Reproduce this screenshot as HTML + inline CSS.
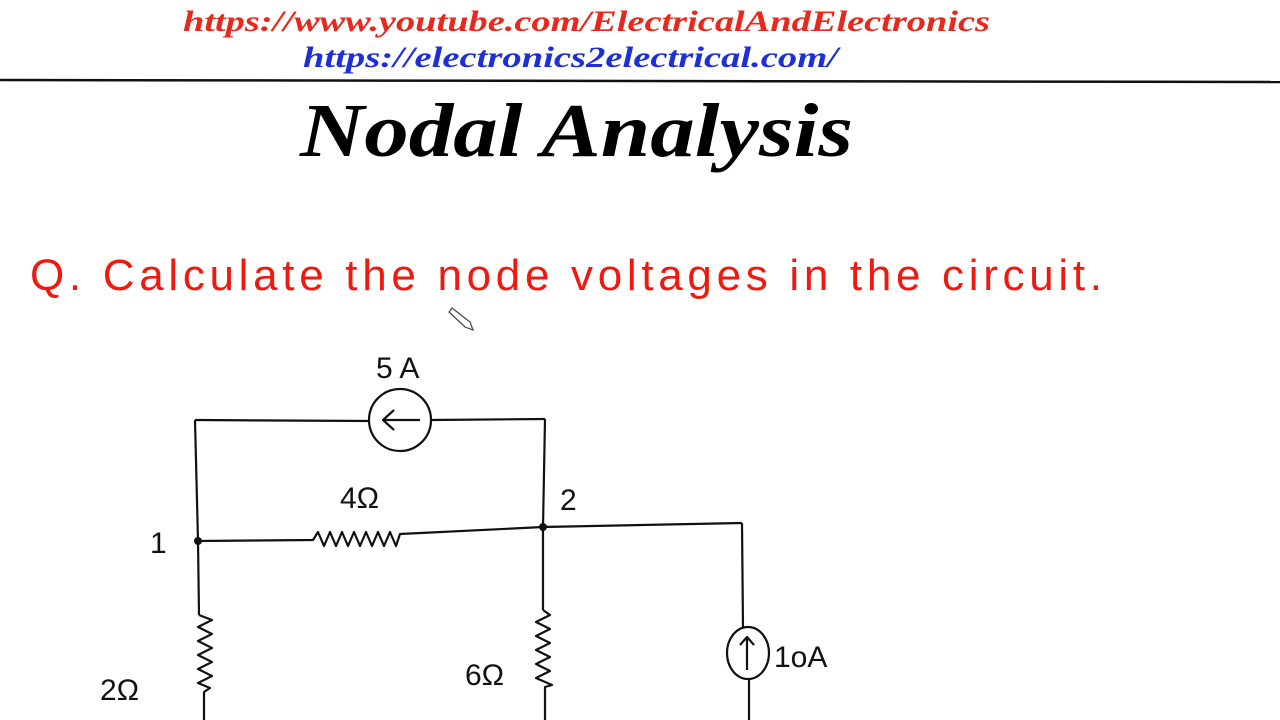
<!DOCTYPE html>
<html><head><meta charset="utf-8"><style>html,body{margin:0;padding:0;background:#fff}svg{display:block}</style></head>
<body>
<svg width="1280" height="720" viewBox="0 0 1280 720" xmlns="http://www.w3.org/2000/svg">
<rect width="1280" height="720" fill="#fff"/>
<text x="183" y="31" font-family="Liberation Serif, serif" font-weight="bold" font-style="italic" font-size="30" fill="#e8281c" textLength="807" lengthAdjust="spacingAndGlyphs">https://www.youtube.com/ElectricalAndElectronics</text>
<text x="303" y="67" font-family="Liberation Serif, serif" font-weight="bold" font-style="italic" font-size="30" fill="#1f2fd8" textLength="535" lengthAdjust="spacingAndGlyphs">https://electronics2electrical.com/</text>
<line x1="0" y1="80" x2="1280" y2="82" stroke="#111" stroke-width="2.5"/>
<text x="300" y="156" font-family="Liberation Serif, serif" font-weight="bold" font-style="italic" font-size="76" fill="#000" textLength="553" lengthAdjust="spacingAndGlyphs">Nodal Analysis</text>
<text x="30" y="290" font-family="Liberation Sans, sans-serif" font-size="44" fill="#ee1a10" textLength="1072" lengthAdjust="spacing">Q. Calculate  the  node  voltages  in  the  circuit.</text>
<path d="M452 308 L470 322 L473 330 L465 327 L449 312 Z" fill="none" stroke="#444" stroke-width="1.2"/>
<g stroke="#111" stroke-width="2.2" fill="none" stroke-linejoin="round">
<path d="M195 420 L369 421 M431 420 L545 419"/>
<circle cx="400" cy="420" r="31"/>
<path d="M420 420 L383 420 M394 410 L383 420 L394 430"/>
<path d="M195 420 L198 541 L199 615"/>
<path d="M199 615 L212 620 L198 627 L212 634 L198 641 L212 648 L198 655 L212 662 L198 669 L212 676 L198 683 L210 688 L204 692 L204 720"/>
<path d="M198 541 L313 540 L318 532 L324 546 L330 532 L336 546 L342 532 L348 546 L354 532 L360 546 L366 532 L372 546 L378 532 L384 546 L390 532 L396 546 L400 534 L543 527 L742 523"/>
<path d="M545 419 L543 527 L543 610"/>
<path d="M543 610 L550 615 L536 622 L550 629 L536 636 L550 643 L536 650 L550 657 L536 664 L550 671 L536 678 L552 685 L545 687 L545 720"/>
<path d="M742 523 L743 628"/>
<ellipse cx="748" cy="653" rx="21" ry="26"/>
<path d="M747 670 L747 637 M740 645 L747 637 L754 645"/>
<path d="M749 679 L749 720"/>
</g>
<circle cx="198" cy="541" r="4" fill="#111"/>
<circle cx="543" cy="527" r="4" fill="#111"/>
<g font-family="Liberation Sans, sans-serif" font-size="30" fill="#111">
<text x="376" y="378">5 A</text>
<text x="340" y="508">4Ω</text>
<text x="560" y="510">2</text>
<text x="150" y="553">1</text>
<text x="100" y="700">2Ω</text>
<text x="465" y="685">6Ω</text>
<text x="774" y="667">1oA</text>
</g>
</svg>
</body></html>
